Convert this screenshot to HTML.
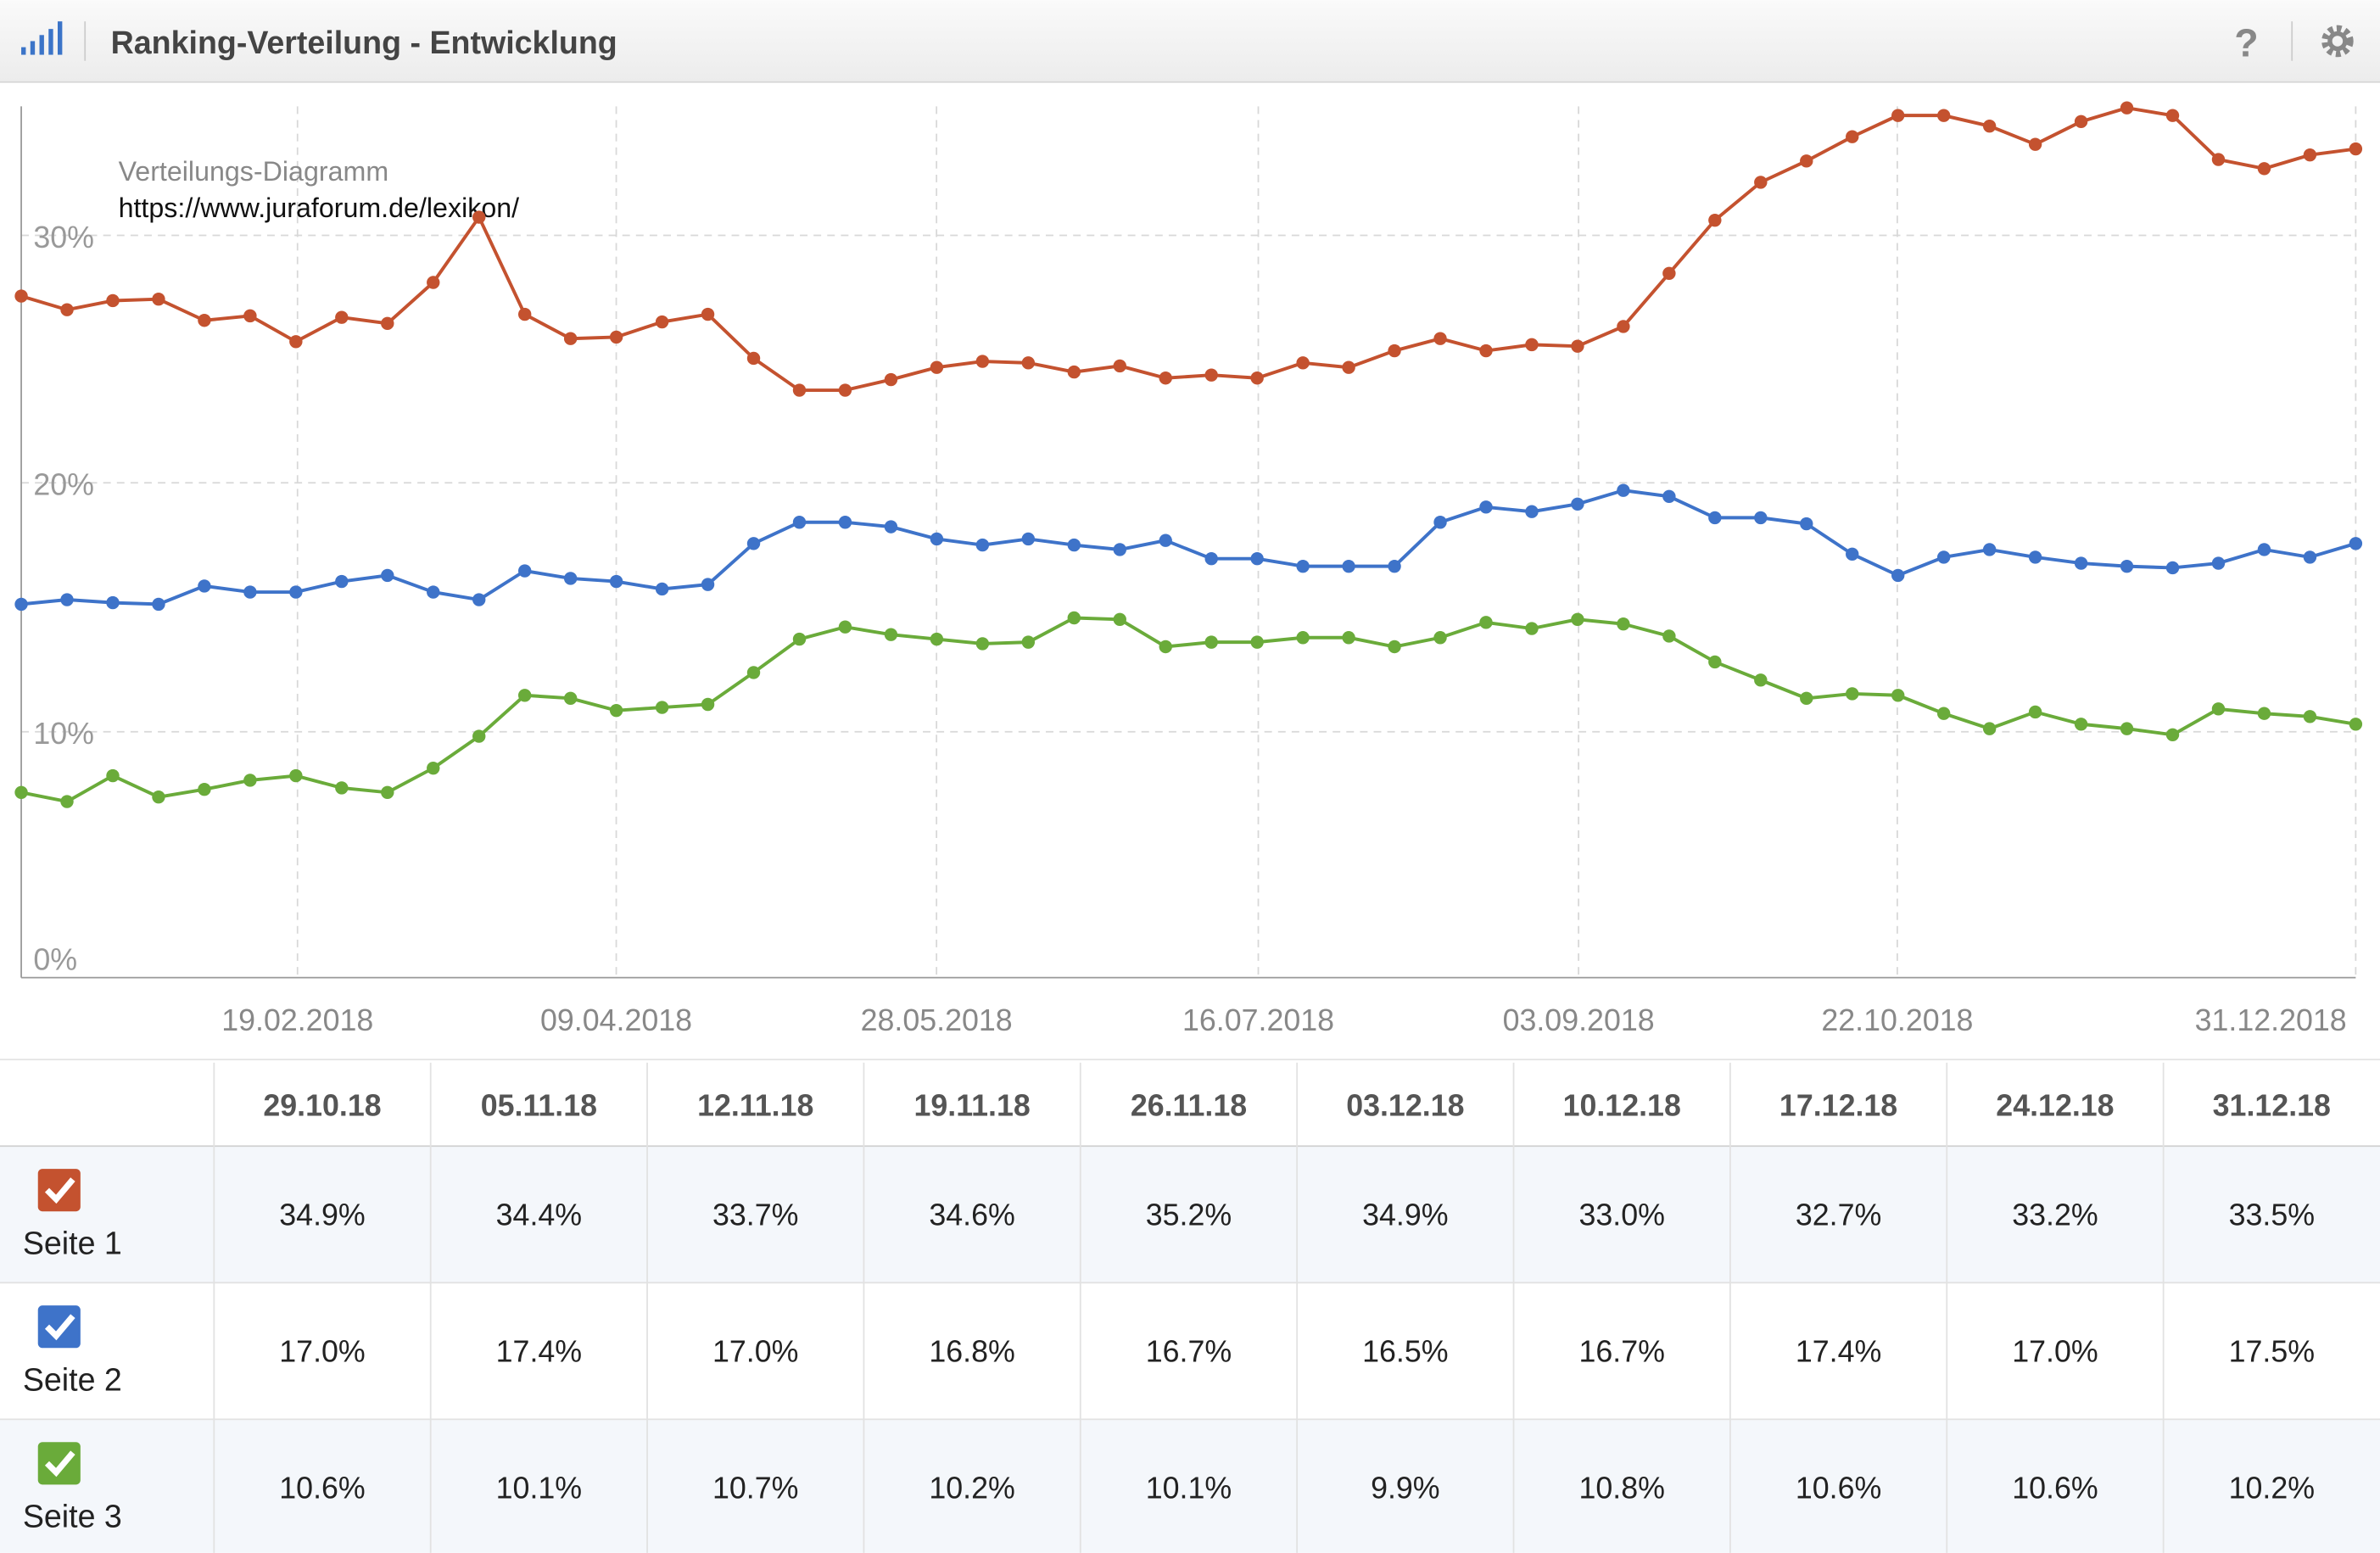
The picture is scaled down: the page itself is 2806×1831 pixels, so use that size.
<!DOCTYPE html>
<html><head><meta charset="utf-8"><style>
html,body{margin:0;padding:0;background:#fff;}
svg{display:block;font-family:"Liberation Sans",Arial,sans-serif;}
</style></head><body>
<svg width="2806" height="1831" viewBox="0 0 1568 1023" xmlns="http://www.w3.org/2000/svg">
<defs><linearGradient id="hg" x1="0" y1="0" x2="0" y2="1"><stop offset="0" stop-color="#fafafa"/><stop offset="1" stop-color="#ececec"/></linearGradient></defs>
<rect x="0" y="0" width="1568" height="54" fill="url(#hg)"/>
<line x1="0" y1="54" x2="1568" y2="54" stroke="#d6d6d6"/>
<g fill="#3b74c8"><rect x="14" y="31" width="3" height="5"/><rect x="20" y="27" width="3" height="9"/><rect x="26" y="23" width="3" height="13"/><rect x="32" y="19" width="3" height="17"/><rect x="38" y="14" width="3" height="22"/></g>
<line x1="56" y1="14" x2="56" y2="40" stroke="#ccc"/>
<text x="73" y="35" font-size="21" font-weight="bold" fill="#444">Ranking-Verteilung - Entwicklung</text>
<text x="1472" y="37" font-size="26" font-weight="bold" fill="#888">?</text>
<line x1="1510" y1="14" x2="1510" y2="40" stroke="#ccc"/>
<circle cx="1540" cy="27" r="8" fill="none" stroke="#888" stroke-width="5" stroke-dasharray="3 2.3"/><circle cx="1540" cy="27" r="5" fill="none" stroke="#888" stroke-width="3"/>
<g stroke="#d8d8d8" stroke-dasharray="5 4" stroke-width="1">
<line x1="14" y1="155" x2="1552" y2="155"/><line x1="14" y1="318" x2="1552" y2="318"/><line x1="14" y1="482" x2="1552" y2="482"/>
<line x1="196" y1="70" x2="196" y2="644"/><line x1="406" y1="70" x2="406" y2="644"/><line x1="617" y1="70" x2="617" y2="644"/><line x1="829" y1="70" x2="829" y2="644"/><line x1="1040" y1="70" x2="1040" y2="644"/><line x1="1250" y1="70" x2="1250" y2="644"/><line x1="1552" y1="70" x2="1552" y2="644"/>
</g>
<line x1="14" y1="70" x2="14" y2="644" stroke="#999"/>
<line x1="14" y1="644" x2="1552" y2="644" stroke="#999"/>
<g font-size="20" fill="#999"><text x="22" y="163">30%</text><text x="22" y="326">20%</text><text x="22" y="490">10%</text><text x="22" y="639">0%</text></g>
<g font-size="20" fill="#888" text-anchor="middle"><text x="196" y="679">19.02.2018</text><text x="406" y="679">09.04.2018</text><text x="617" y="679">28.05.2018</text><text x="829" y="679">16.07.2018</text><text x="1040" y="679">03.09.2018</text><text x="1250" y="679">22.10.2018</text><text x="1496" y="679">31.12.2018</text></g>
<text x="78" y="119" font-size="18" fill="#888">Verteilungs-Diagramm</text>
<text x="78" y="143" font-size="18" fill="#111">https://www.juraforum.de/lexikon/</text>
<g id="series"></g>
<g>
<rect x="0" y="700" width="1568" height="55" fill="#fff"/>
<rect x="0" y="755" width="1568" height="90" fill="#f4f7fb"/>
<rect x="0" y="845" width="1568" height="90" fill="#fff"/>
<rect x="0" y="935" width="1568" height="88" fill="#f4f7fb"/>
<g stroke="#e2e2e2"><line x1="0" y1="698" x2="1568" y2="698"/><line x1="0" y1="755" x2="1568" y2="755" stroke="#d0d0d0"/><line x1="0" y1="845" x2="1568" y2="845"/><line x1="0" y1="935" x2="1568" y2="935"/></g>
<g id="cols" stroke="#e2e2e2"></g>
<g id="txt" font-size="20" fill="#222" text-anchor="middle"></g>
<rect x="25" y="770" width="28" height="28" rx="3" fill="#c4522f"/><path d="M31 784 l6 6 l11 -13" stroke="#fff" stroke-width="4" fill="none"/>
<rect x="25" y="860" width="28" height="28" rx="3" fill="#3e73c9"/><path d="M31 874 l6 6 l11 -13" stroke="#fff" stroke-width="4" fill="none"/>
<rect x="25" y="950" width="28" height="28" rx="3" fill="#6aab3a"/><path d="M31 964 l6 6 l11 -13" stroke="#fff" stroke-width="4" fill="none"/>
<g font-size="21" fill="#222"><text x="15" y="826">Seite 1</text><text x="15" y="916">Seite 2</text><text x="15" y="1006">Seite 3</text></g>
</g>
</svg>
<script>
const NS="http://www.w3.org/2000/svg";
const R=[195,204,198,197,211,208,225,209,213,186,143,207,223,222,212,207,236,257,257,250,242,238,239,245,241,249,247,249,239,242,231,223,231,227,228,215,180,145,120,106,90,76,76,83,95,80,71,76,105,111,102,98];
const B=[398,395,397,398,386,390,390,383,379,390,395,376,381,383,388,385,358,344,344,347,355,359,355,359,362,356,368,368,373,373,373,344,334,337,332,323,327,341,341,345,365,379,367,362,367,371,373,374,371,362,367,358];
const G=[522,528,511,525,520,514,511,519,522,506,485,458,460,468,466,464,443,421,413,418,421,424,423,407,408,426,423,423,420,420,426,420,410,414,408,411,419,436,448,460,457,458,470,480,469,477,480,484,467,470,472,477];
const sg=document.getElementById("series");
[[R,"#c4522f"],[B,"#3e73c9"],[G,"#6aab3a"]].forEach(([d,c])=>{
 let p=d.map((y,i)=>(14+i*30.157).toFixed(1)+","+y).join(" ");
 let pl=document.createElementNS(NS,"polyline");pl.setAttribute("points",p);pl.setAttribute("fill","none");pl.setAttribute("stroke",c);pl.setAttribute("stroke-width","2.2");sg.appendChild(pl);
 d.forEach((y,i)=>{let ci=document.createElementNS(NS,"circle");ci.setAttribute("cx",14+i*30.157);ci.setAttribute("cy",y);ci.setAttribute("r","4.3");ci.setAttribute("fill",c);sg.appendChild(ci);});
});
const dates=["29.10.18","05.11.18","12.11.18","19.11.18","26.11.18","03.12.18","10.12.18","17.12.18","24.12.18","31.12.18"];
const v1=["34.9%","34.4%","33.7%","34.6%","35.2%","34.9%","33.0%","32.7%","33.2%","33.5%"];
const v2=["17.0%","17.4%","17.0%","16.8%","16.7%","16.5%","16.7%","17.4%","17.0%","17.5%"];
const v3=["10.6%","10.1%","10.7%","10.2%","10.1%","9.9%","10.8%","10.6%","10.6%","10.2%"];
const cols=document.getElementById("cols"),txt=document.getElementById("txt");
const w=(1568-141)/10;
for(let i=0;i<10;i++){
 let x=141+i*w;
 let l=document.createElementNS(NS,"line");l.setAttribute("x1",x);l.setAttribute("x2",x);l.setAttribute("y1",700);l.setAttribute("y2",1023);cols.appendChild(l);
 let cx=x+w/2;
 const add=(s,y,b)=>{let t=document.createElementNS(NS,"text");t.setAttribute("x",cx);t.setAttribute("y",y);if(b){t.setAttribute("font-weight","bold");t.setAttribute("fill","#555");}t.textContent=s;txt.appendChild(t);};
 add(dates[i],735,true);add(v1[i],807);add(v2[i],897);add(v3[i],987);
}
</script>
</body></html>
